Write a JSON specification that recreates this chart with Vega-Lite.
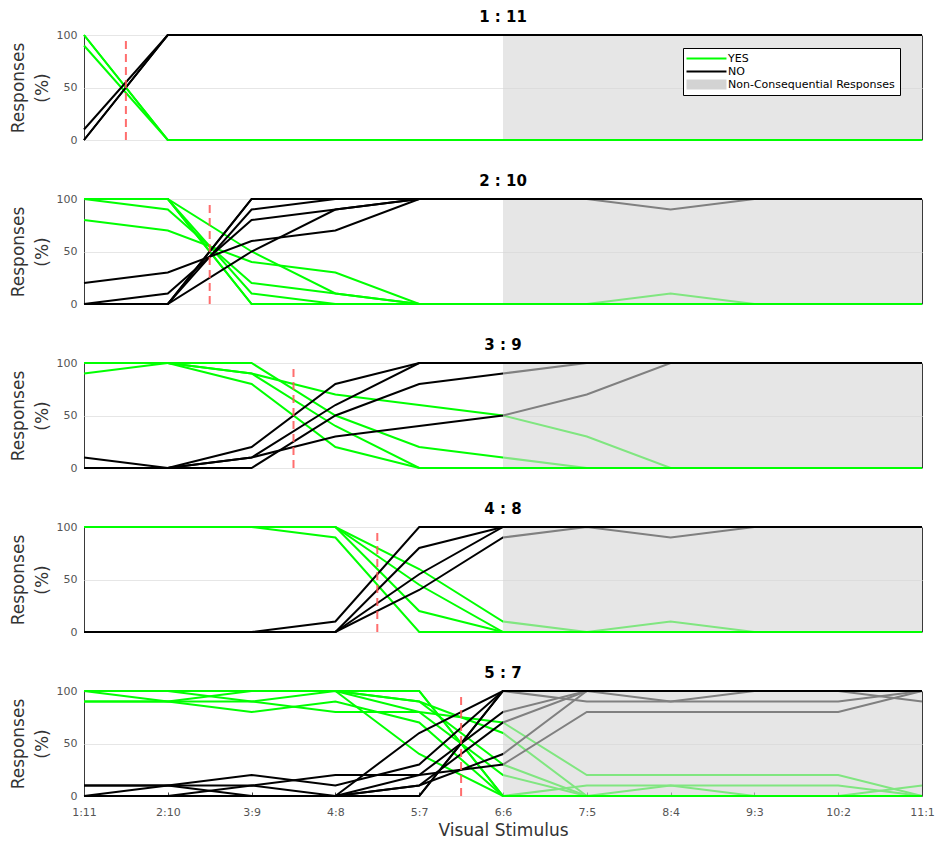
{
"$schema": "https://vega.github.io/schema/vega-lite/v6.json",
"background": "white",
"padding": {"left": 8, "top": 9, "right": 10, "bottom": 2},
"spacing": 27,
"datasets": {
"lines": [
{"p":1,"s":1,"x":1,"YES":100,"NO":0},{"p":1,"s":1,"x":2,"YES":0,"NO":100},{"p":1,"s":1,"x":3,"YES":0,"NO":100},{"p":1,"s":1,"x":4,"YES":0,"NO":100},{"p":1,"s":1,"x":5,"YES":0,"NO":100},{"p":1,"s":1,"x":6,"YES":0,"NO":100},{"p":1,"s":1,"x":7,"YES":0,"NO":100},{"p":1,"s":1,"x":8,"YES":0,"NO":100},{"p":1,"s":1,"x":9,"YES":0,"NO":100},{"p":1,"s":1,"x":10,"YES":0,"NO":100},{"p":1,"s":1,"x":11,"YES":0,"NO":100},
{"p":1,"s":2,"x":1,"YES":90,"NO":10},{"p":1,"s":2,"x":2,"YES":0,"NO":100},{"p":1,"s":2,"x":3,"YES":0,"NO":100},{"p":1,"s":2,"x":4,"YES":0,"NO":100},{"p":1,"s":2,"x":5,"YES":0,"NO":100},{"p":1,"s":2,"x":6,"YES":0,"NO":100},{"p":1,"s":2,"x":7,"YES":0,"NO":100},{"p":1,"s":2,"x":8,"YES":0,"NO":100},{"p":1,"s":2,"x":9,"YES":0,"NO":100},{"p":1,"s":2,"x":10,"YES":0,"NO":100},{"p":1,"s":2,"x":11,"YES":0,"NO":100},
{"p":1,"s":3,"x":1,"YES":100,"NO":0},{"p":1,"s":3,"x":2,"YES":0,"NO":100},{"p":1,"s":3,"x":3,"YES":0,"NO":100},{"p":1,"s":3,"x":4,"YES":0,"NO":100},{"p":1,"s":3,"x":5,"YES":0,"NO":100},{"p":1,"s":3,"x":6,"YES":0,"NO":100},{"p":1,"s":3,"x":7,"YES":0,"NO":100},{"p":1,"s":3,"x":8,"YES":0,"NO":100},{"p":1,"s":3,"x":9,"YES":0,"NO":100},{"p":1,"s":3,"x":10,"YES":0,"NO":100},{"p":1,"s":3,"x":11,"YES":0,"NO":100},

{"p":2,"s":1,"x":1,"YES":100,"NO":0},{"p":2,"s":1,"x":2,"YES":100,"NO":0},{"p":2,"s":1,"x":3,"YES":0,"NO":100},{"p":2,"s":1,"x":4,"YES":0,"NO":100},{"p":2,"s":1,"x":5,"YES":0,"NO":100},{"p":2,"s":1,"x":6,"YES":0,"NO":100},{"p":2,"s":1,"x":7,"YES":0,"NO":100},{"p":2,"s":1,"x":8,"YES":10,"NO":90},{"p":2,"s":1,"x":9,"YES":0,"NO":100},{"p":2,"s":1,"x":10,"YES":0,"NO":100},{"p":2,"s":1,"x":11,"YES":0,"NO":100},
{"p":2,"s":2,"x":1,"YES":100,"NO":0},{"p":2,"s":2,"x":2,"YES":100,"NO":0},{"p":2,"s":2,"x":3,"YES":10,"NO":90},{"p":2,"s":2,"x":4,"YES":0,"NO":100},{"p":2,"s":2,"x":5,"YES":0,"NO":100},{"p":2,"s":2,"x":6,"YES":0,"NO":100},{"p":2,"s":2,"x":7,"YES":0,"NO":100},{"p":2,"s":2,"x":8,"YES":0,"NO":100},{"p":2,"s":2,"x":9,"YES":0,"NO":100},{"p":2,"s":2,"x":10,"YES":0,"NO":100},{"p":2,"s":2,"x":11,"YES":0,"NO":100},
{"p":2,"s":3,"x":1,"YES":100,"NO":0},{"p":2,"s":3,"x":2,"YES":90,"NO":10},{"p":2,"s":3,"x":3,"YES":20,"NO":80},{"p":2,"s":3,"x":4,"YES":10,"NO":90},{"p":2,"s":3,"x":5,"YES":0,"NO":100},{"p":2,"s":3,"x":6,"YES":0,"NO":100},{"p":2,"s":3,"x":7,"YES":0,"NO":100},{"p":2,"s":3,"x":8,"YES":0,"NO":100},{"p":2,"s":3,"x":9,"YES":0,"NO":100},{"p":2,"s":3,"x":10,"YES":0,"NO":100},{"p":2,"s":3,"x":11,"YES":0,"NO":100},
{"p":2,"s":4,"x":1,"YES":100,"NO":0},{"p":2,"s":4,"x":2,"YES":100,"NO":0},{"p":2,"s":4,"x":3,"YES":50,"NO":50},{"p":2,"s":4,"x":4,"YES":10,"NO":90},{"p":2,"s":4,"x":5,"YES":0,"NO":100},{"p":2,"s":4,"x":6,"YES":0,"NO":100},{"p":2,"s":4,"x":7,"YES":0,"NO":100},{"p":2,"s":4,"x":8,"YES":0,"NO":100},{"p":2,"s":4,"x":9,"YES":0,"NO":100},{"p":2,"s":4,"x":10,"YES":0,"NO":100},{"p":2,"s":4,"x":11,"YES":0,"NO":100},
{"p":2,"s":5,"x":1,"YES":80,"NO":20},{"p":2,"s":5,"x":2,"YES":70,"NO":30},{"p":2,"s":5,"x":3,"YES":40,"NO":60},{"p":2,"s":5,"x":4,"YES":30,"NO":70},{"p":2,"s":5,"x":5,"YES":0,"NO":100},{"p":2,"s":5,"x":6,"YES":0,"NO":100},{"p":2,"s":5,"x":7,"YES":0,"NO":100},{"p":2,"s":5,"x":8,"YES":0,"NO":100},{"p":2,"s":5,"x":9,"YES":0,"NO":100},{"p":2,"s":5,"x":10,"YES":0,"NO":100},{"p":2,"s":5,"x":11,"YES":0,"NO":100},
{"p":2,"s":6,"x":1,"YES":100,"NO":0},{"p":2,"s":6,"x":2,"YES":100,"NO":0},{"p":2,"s":6,"x":3,"YES":0,"NO":100},{"p":2,"s":6,"x":4,"YES":0,"NO":100},{"p":2,"s":6,"x":5,"YES":0,"NO":100},{"p":2,"s":6,"x":6,"YES":0,"NO":100},{"p":2,"s":6,"x":7,"YES":0,"NO":100},{"p":2,"s":6,"x":8,"YES":0,"NO":100},{"p":2,"s":6,"x":9,"YES":0,"NO":100},{"p":2,"s":6,"x":10,"YES":0,"NO":100},{"p":2,"s":6,"x":11,"YES":0,"NO":100},

{"p":3,"s":1,"x":1,"YES":100,"NO":0},{"p":3,"s":1,"x":2,"YES":100,"NO":0},{"p":3,"s":1,"x":3,"YES":80,"NO":20},{"p":3,"s":1,"x":4,"YES":20,"NO":80},{"p":3,"s":1,"x":5,"YES":0,"NO":100},{"p":3,"s":1,"x":6,"YES":0,"NO":100},{"p":3,"s":1,"x":7,"YES":0,"NO":100},{"p":3,"s":1,"x":8,"YES":0,"NO":100},{"p":3,"s":1,"x":9,"YES":0,"NO":100},{"p":3,"s":1,"x":10,"YES":0,"NO":100},{"p":3,"s":1,"x":11,"YES":0,"NO":100},
{"p":3,"s":2,"x":1,"YES":100,"NO":0},{"p":3,"s":2,"x":2,"YES":100,"NO":0},{"p":3,"s":2,"x":3,"YES":90,"NO":10},{"p":3,"s":2,"x":4,"YES":40,"NO":60},{"p":3,"s":2,"x":5,"YES":0,"NO":100},{"p":3,"s":2,"x":6,"YES":0,"NO":100},{"p":3,"s":2,"x":7,"YES":0,"NO":100},{"p":3,"s":2,"x":8,"YES":0,"NO":100},{"p":3,"s":2,"x":9,"YES":0,"NO":100},{"p":3,"s":2,"x":10,"YES":0,"NO":100},{"p":3,"s":2,"x":11,"YES":0,"NO":100},
{"p":3,"s":3,"x":1,"YES":90,"NO":10},{"p":3,"s":3,"x":2,"YES":100,"NO":0},{"p":3,"s":3,"x":3,"YES":100,"NO":0},{"p":3,"s":3,"x":4,"YES":50,"NO":50},{"p":3,"s":3,"x":5,"YES":20,"NO":80},{"p":3,"s":3,"x":6,"YES":10,"NO":90},{"p":3,"s":3,"x":7,"YES":0,"NO":100},{"p":3,"s":3,"x":8,"YES":0,"NO":100},{"p":3,"s":3,"x":9,"YES":0,"NO":100},{"p":3,"s":3,"x":10,"YES":0,"NO":100},{"p":3,"s":3,"x":11,"YES":0,"NO":100},
{"p":3,"s":4,"x":1,"YES":100,"NO":0},{"p":3,"s":4,"x":2,"YES":100,"NO":0},{"p":3,"s":4,"x":3,"YES":90,"NO":10},{"p":3,"s":4,"x":4,"YES":70,"NO":30},{"p":3,"s":4,"x":5,"YES":60,"NO":40},{"p":3,"s":4,"x":6,"YES":50,"NO":50},{"p":3,"s":4,"x":7,"YES":30,"NO":70},{"p":3,"s":4,"x":8,"YES":0,"NO":100},{"p":3,"s":4,"x":9,"YES":0,"NO":100},{"p":3,"s":4,"x":10,"YES":0,"NO":100},{"p":3,"s":4,"x":11,"YES":0,"NO":100},

{"p":4,"s":1,"x":1,"YES":100,"NO":0},{"p":4,"s":1,"x":2,"YES":100,"NO":0},{"p":4,"s":1,"x":3,"YES":100,"NO":0},{"p":4,"s":1,"x":4,"YES":90,"NO":10},{"p":4,"s":1,"x":5,"YES":0,"NO":100},{"p":4,"s":1,"x":6,"YES":0,"NO":100},{"p":4,"s":1,"x":7,"YES":0,"NO":100},{"p":4,"s":1,"x":8,"YES":0,"NO":100},{"p":4,"s":1,"x":9,"YES":0,"NO":100},{"p":4,"s":1,"x":10,"YES":0,"NO":100},{"p":4,"s":1,"x":11,"YES":0,"NO":100},
{"p":4,"s":2,"x":1,"YES":100,"NO":0},{"p":4,"s":2,"x":2,"YES":100,"NO":0},{"p":4,"s":2,"x":3,"YES":100,"NO":0},{"p":4,"s":2,"x":4,"YES":100,"NO":0},{"p":4,"s":2,"x":5,"YES":20,"NO":80},{"p":4,"s":2,"x":6,"YES":0,"NO":100},{"p":4,"s":2,"x":7,"YES":0,"NO":100},{"p":4,"s":2,"x":8,"YES":0,"NO":100},{"p":4,"s":2,"x":9,"YES":0,"NO":100},{"p":4,"s":2,"x":10,"YES":0,"NO":100},{"p":4,"s":2,"x":11,"YES":0,"NO":100},
{"p":4,"s":3,"x":1,"YES":100,"NO":0},{"p":4,"s":3,"x":2,"YES":100,"NO":0},{"p":4,"s":3,"x":3,"YES":100,"NO":0},{"p":4,"s":3,"x":4,"YES":100,"NO":0},{"p":4,"s":3,"x":5,"YES":45,"NO":55},{"p":4,"s":3,"x":6,"YES":0,"NO":100},{"p":4,"s":3,"x":7,"YES":0,"NO":100},{"p":4,"s":3,"x":8,"YES":0,"NO":100},{"p":4,"s":3,"x":9,"YES":0,"NO":100},{"p":4,"s":3,"x":10,"YES":0,"NO":100},{"p":4,"s":3,"x":11,"YES":0,"NO":100},
{"p":4,"s":4,"x":1,"YES":100,"NO":0},{"p":4,"s":4,"x":2,"YES":100,"NO":0},{"p":4,"s":4,"x":3,"YES":100,"NO":0},{"p":4,"s":4,"x":4,"YES":100,"NO":0},{"p":4,"s":4,"x":5,"YES":60,"NO":40},{"p":4,"s":4,"x":6,"YES":10,"NO":90},{"p":4,"s":4,"x":7,"YES":0,"NO":100},{"p":4,"s":4,"x":8,"YES":10,"NO":90},{"p":4,"s":4,"x":9,"YES":0,"NO":100},{"p":4,"s":4,"x":10,"YES":0,"NO":100},{"p":4,"s":4,"x":11,"YES":0,"NO":100},

{"p":5,"s":1,"x":1,"YES":100,"NO":0},{"p":5,"s":1,"x":2,"YES":100,"NO":0},{"p":5,"s":1,"x":3,"YES":100,"NO":0},{"p":5,"s":1,"x":4,"YES":100,"NO":0},{"p":5,"s":1,"x":5,"YES":100,"NO":0},{"p":5,"s":1,"x":6,"YES":0,"NO":100},{"p":5,"s":1,"x":7,"YES":0,"NO":100},{"p":5,"s":1,"x":8,"YES":0,"NO":100},{"p":5,"s":1,"x":9,"YES":0,"NO":100},{"p":5,"s":1,"x":10,"YES":0,"NO":100},{"p":5,"s":1,"x":11,"YES":0,"NO":100},
{"p":5,"s":2,"x":1,"YES":90,"NO":10},{"p":5,"s":2,"x":2,"YES":90,"NO":10},{"p":5,"s":2,"x":3,"YES":80,"NO":20},{"p":5,"s":2,"x":4,"YES":90,"NO":10},{"p":5,"s":2,"x":5,"YES":70,"NO":30},{"p":5,"s":2,"x":6,"YES":0,"NO":100},{"p":5,"s":2,"x":7,"YES":0,"NO":100},{"p":5,"s":2,"x":8,"YES":0,"NO":100},{"p":5,"s":2,"x":9,"YES":0,"NO":100},{"p":5,"s":2,"x":10,"YES":0,"NO":100},{"p":5,"s":2,"x":11,"YES":0,"NO":100},
{"p":5,"s":3,"x":1,"YES":100,"NO":0},{"p":5,"s":3,"x":2,"YES":90,"NO":10},{"p":5,"s":3,"x":3,"YES":90,"NO":10},{"p":5,"s":3,"x":4,"YES":80,"NO":20},{"p":5,"s":3,"x":5,"YES":80,"NO":20},{"p":5,"s":3,"x":6,"YES":20,"NO":80},{"p":5,"s":3,"x":7,"YES":0,"NO":100},{"p":5,"s":3,"x":8,"YES":0,"NO":100},{"p":5,"s":3,"x":9,"YES":0,"NO":100},{"p":5,"s":3,"x":10,"YES":0,"NO":100},{"p":5,"s":3,"x":11,"YES":0,"NO":100},
{"p":5,"s":4,"x":1,"YES":90,"NO":10},{"p":5,"s":4,"x":2,"YES":90,"NO":10},{"p":5,"s":4,"x":3,"YES":100,"NO":0},{"p":5,"s":4,"x":4,"YES":100,"NO":0},{"p":5,"s":4,"x":5,"YES":90,"NO":10},{"p":5,"s":4,"x":6,"YES":30,"NO":70},{"p":5,"s":4,"x":7,"YES":0,"NO":100},{"p":5,"s":4,"x":8,"YES":0,"NO":100},{"p":5,"s":4,"x":9,"YES":0,"NO":100},{"p":5,"s":4,"x":10,"YES":0,"NO":100},{"p":5,"s":4,"x":11,"YES":0,"NO":100},
{"p":5,"s":5,"x":1,"YES":100,"NO":0},{"p":5,"s":5,"x":2,"YES":100,"NO":0},{"p":5,"s":5,"x":3,"YES":90,"NO":10},{"p":5,"s":5,"x":4,"YES":100,"NO":0},{"p":5,"s":5,"x":5,"YES":40,"NO":60},{"p":5,"s":5,"x":6,"YES":0,"NO":100},{"p":5,"s":5,"x":7,"YES":10,"NO":90},{"p":5,"s":5,"x":8,"YES":10,"NO":90},{"p":5,"s":5,"x":9,"YES":10,"NO":90},{"p":5,"s":5,"x":10,"YES":10,"NO":90},{"p":5,"s":5,"x":11,"YES":0,"NO":100},
{"p":5,"s":6,"x":1,"YES":100,"NO":0},{"p":5,"s":6,"x":2,"YES":100,"NO":0},{"p":5,"s":6,"x":3,"YES":100,"NO":0},{"p":5,"s":6,"x":4,"YES":100,"NO":0},{"p":5,"s":6,"x":5,"YES":100,"NO":0},{"p":5,"s":6,"x":6,"YES":0,"NO":100},{"p":5,"s":6,"x":7,"YES":0,"NO":100},{"p":5,"s":6,"x":8,"YES":10,"NO":90},{"p":5,"s":6,"x":9,"YES":0,"NO":100},{"p":5,"s":6,"x":10,"YES":0,"NO":100},{"p":5,"s":6,"x":11,"YES":10,"NO":90},
{"p":5,"s":7,"x":1,"YES":100,"NO":0},{"p":5,"s":7,"x":2,"YES":100,"NO":0},{"p":5,"s":7,"x":3,"YES":100,"NO":0},{"p":5,"s":7,"x":4,"YES":100,"NO":0},{"p":5,"s":7,"x":5,"YES":90,"NO":10},{"p":5,"s":7,"x":6,"YES":60,"NO":40},{"p":5,"s":7,"x":7,"YES":0,"NO":100},{"p":5,"s":7,"x":8,"YES":0,"NO":100},{"p":5,"s":7,"x":9,"YES":0,"NO":100},{"p":5,"s":7,"x":10,"YES":0,"NO":100},{"p":5,"s":7,"x":11,"YES":0,"NO":100},
{"p":5,"s":8,"x":1,"YES":100,"NO":0},{"p":5,"s":8,"x":2,"YES":100,"NO":0},{"p":5,"s":8,"x":3,"YES":100,"NO":0},{"p":5,"s":8,"x":4,"YES":100,"NO":0},{"p":5,"s":8,"x":5,"YES":80,"NO":20},{"p":5,"s":8,"x":6,"YES":70,"NO":30},{"p":5,"s":8,"x":7,"YES":20,"NO":80},{"p":5,"s":8,"x":8,"YES":20,"NO":80},{"p":5,"s":8,"x":9,"YES":20,"NO":80},{"p":5,"s":8,"x":10,"YES":20,"NO":80},{"p":5,"s":8,"x":11,"YES":0,"NO":100}
],
"thr": [{"p":1,"x":1.5},{"p":2,"x":2.5},{"p":3,"x":3.5},{"p":4,"x":4.5},{"p":5,"x":5.5}],
"shade": [{"x":6,"x2":11}]
},
"vconcat": [
{
"width": 838, "height": 105, "title": "1 : 11",
"encoding": {"x": {"field": "x", "type": "quantitative", "scale": {"domain": [1, 11], "nice": false, "zero": false}, "axis": null}},
"layer": [
{"data": {"name": "lines"}, "transform": [{"filter": "datum.p == 1"}, {"fold": ["YES", "NO"], "as": ["r", "v"]}, {"filter": "datum.r == 'YES'"}],
 "mark": {"type": "line", "strokeWidth": 2},
 "encoding": {
  "y": {"field": "v", "type": "quantitative", "scale": {"domain": [0, 100]}, "axis": {"values": [0, 50, 100], "title": ["Responses", "(%)"]}},
  "stroke": {"field": "r", "type": "nominal", "scale": {"domain": ["YES", "NO", "Non-Consequential Responses"], "range": ["#00ff00", "#000000", "#d3d3d3"]},
   "legend": {"orient": "none", "legendX": 599, "legendY": 13, "title": null, "symbolType": "stroke", "symbolSize": 196, "symbolStrokeWidth": 2, "labelFontSize": 11, "labelLimit": 400, "labelColor": "#000", "padding": 5, "rowPadding": 1, "strokeColor": "#000", "fillColor": "#fff", "labelOffset": 29,
    "encode": {"symbols": {"update": {
      "shape": {"signal": "datum.value == 'Non-Consequential Responses' ? 'M-1,-0.72H4.71V0.72H-1Z' : 'M-1,0H4.71'"},
      "fill": {"signal": "datum.value == 'Non-Consequential Responses' ? '#d3d3d3' : 'transparent'"},
      "strokeWidth": {"signal": "datum.value == 'Non-Consequential Responses' ? 0 : 2"}}}}}},
  "detail": {"field": "s"}
 }},
{"data": {"name": "lines"}, "transform": [{"filter": "datum.p == 1"}, {"fold": ["YES", "NO"], "as": ["r", "v"]}, {"filter": "datum.r == 'NO'"}],
 "mark": {"type": "line", "strokeWidth": 2},
 "encoding": {
  "y": {"field": "v", "type": "quantitative", "scale": {"domain": [0, 100]}},
  "stroke": {"field": "r", "type": "nominal"},
  "detail": {"field": "s"}
 }},
{"data": {"name": "shade"}, "mark": {"type": "rect", "fill": "#d5d5d5", "opacity": 0.6},
 "encoding": {"x": {"field": "x", "type": "quantitative"}, "x2": {"field": "x2"}, "y": {"datum": 1, "type": "quantitative"}, "y2": {"datum": 99}}},
{"data": {"name": "thr"}, "transform": [{"filter": "datum.p == 1"}], "mark": {"type": "rule", "stroke": "#ff5555", "strokeWidth": 2, "strokeDash": [8, 5], "opacity": 0.85},
 "encoding": {"x": {"field": "x", "type": "quantitative"}, "y": {"datum": 0, "type": "quantitative"}, "y2": {"datum": 95}}}
]
},
{
"width": 838, "height": 105, "title": "2 : 10",
"encoding": {"x": {"field": "x", "type": "quantitative", "scale": {"domain": [1, 11], "nice": false, "zero": false}, "axis": null}},
"layer": [
{"data": {"name": "lines"}, "transform": [{"filter": "datum.p == 2"}, {"fold": ["YES", "NO"], "as": ["r", "v"]}, {"filter": "datum.r == 'YES'"}],
 "mark": {"type": "line", "strokeWidth": 2},
 "encoding": {
  "y": {"field": "v", "type": "quantitative", "scale": {"domain": [0, 100]}, "axis": {"values": [0, 50, 100], "title": ["Responses", "(%)"]}},
  "stroke": {"field": "r", "type": "nominal", "scale": {"domain": ["YES", "NO", "Non-Consequential Responses"], "range": ["#00ff00", "#000000", "#d3d3d3"]}, "legend": null},
  "detail": {"field": "s"}
 }},
{"data": {"name": "lines"}, "transform": [{"filter": "datum.p == 2"}, {"fold": ["YES", "NO"], "as": ["r", "v"]}, {"filter": "datum.r == 'NO'"}],
 "mark": {"type": "line", "strokeWidth": 2},
 "encoding": {
  "y": {"field": "v", "type": "quantitative", "scale": {"domain": [0, 100]}},
  "stroke": {"field": "r", "type": "nominal", "legend": null},
  "detail": {"field": "s"}
 }},
{"data": {"name": "shade"}, "mark": {"type": "rect", "fill": "#d5d5d5", "opacity": 0.6},
 "encoding": {"x": {"field": "x", "type": "quantitative"}, "x2": {"field": "x2"}, "y": {"datum": 1, "type": "quantitative"}, "y2": {"datum": 99}}},
{"data": {"name": "thr"}, "transform": [{"filter": "datum.p == 2"}], "mark": {"type": "rule", "stroke": "#ff5555", "strokeWidth": 2, "strokeDash": [8, 5], "opacity": 0.85},
 "encoding": {"x": {"field": "x", "type": "quantitative"}, "y": {"datum": 0, "type": "quantitative"}, "y2": {"datum": 95}}}
]
},
{
"width": 838, "height": 105, "title": "3 : 9",
"encoding": {"x": {"field": "x", "type": "quantitative", "scale": {"domain": [1, 11], "nice": false, "zero": false}, "axis": null}},
"layer": [
{"data": {"name": "lines"}, "transform": [{"filter": "datum.p == 3"}, {"fold": ["YES", "NO"], "as": ["r", "v"]}, {"filter": "datum.r == 'YES'"}],
 "mark": {"type": "line", "strokeWidth": 2},
 "encoding": {
  "y": {"field": "v", "type": "quantitative", "scale": {"domain": [0, 100]}, "axis": {"values": [0, 50, 100], "title": ["Responses", "(%)"]}},
  "stroke": {"field": "r", "type": "nominal", "scale": {"domain": ["YES", "NO", "Non-Consequential Responses"], "range": ["#00ff00", "#000000", "#d3d3d3"]}, "legend": null},
  "detail": {"field": "s"}
 }},
{"data": {"name": "lines"}, "transform": [{"filter": "datum.p == 3"}, {"fold": ["YES", "NO"], "as": ["r", "v"]}, {"filter": "datum.r == 'NO'"}],
 "mark": {"type": "line", "strokeWidth": 2},
 "encoding": {
  "y": {"field": "v", "type": "quantitative", "scale": {"domain": [0, 100]}},
  "stroke": {"field": "r", "type": "nominal", "legend": null},
  "detail": {"field": "s"}
 }},
{"data": {"name": "shade"}, "mark": {"type": "rect", "fill": "#d5d5d5", "opacity": 0.6},
 "encoding": {"x": {"field": "x", "type": "quantitative"}, "x2": {"field": "x2"}, "y": {"datum": 1, "type": "quantitative"}, "y2": {"datum": 99}}},
{"data": {"name": "thr"}, "transform": [{"filter": "datum.p == 3"}], "mark": {"type": "rule", "stroke": "#ff5555", "strokeWidth": 2, "strokeDash": [8, 5], "opacity": 0.85},
 "encoding": {"x": {"field": "x", "type": "quantitative"}, "y": {"datum": 0, "type": "quantitative"}, "y2": {"datum": 95}}}
]
},
{
"width": 838, "height": 105, "title": "4 : 8",
"encoding": {"x": {"field": "x", "type": "quantitative", "scale": {"domain": [1, 11], "nice": false, "zero": false}, "axis": null}},
"layer": [
{"data": {"name": "lines"}, "transform": [{"filter": "datum.p == 4"}, {"fold": ["YES", "NO"], "as": ["r", "v"]}, {"filter": "datum.r == 'YES'"}],
 "mark": {"type": "line", "strokeWidth": 2},
 "encoding": {
  "y": {"field": "v", "type": "quantitative", "scale": {"domain": [0, 100]}, "axis": {"values": [0, 50, 100], "title": ["Responses", "(%)"]}},
  "stroke": {"field": "r", "type": "nominal", "scale": {"domain": ["YES", "NO", "Non-Consequential Responses"], "range": ["#00ff00", "#000000", "#d3d3d3"]}, "legend": null},
  "detail": {"field": "s"}
 }},
{"data": {"name": "lines"}, "transform": [{"filter": "datum.p == 4"}, {"fold": ["YES", "NO"], "as": ["r", "v"]}, {"filter": "datum.r == 'NO'"}],
 "mark": {"type": "line", "strokeWidth": 2},
 "encoding": {
  "y": {"field": "v", "type": "quantitative", "scale": {"domain": [0, 100]}},
  "stroke": {"field": "r", "type": "nominal", "legend": null},
  "detail": {"field": "s"}
 }},
{"data": {"name": "shade"}, "mark": {"type": "rect", "fill": "#d5d5d5", "opacity": 0.6},
 "encoding": {"x": {"field": "x", "type": "quantitative"}, "x2": {"field": "x2"}, "y": {"datum": 1, "type": "quantitative"}, "y2": {"datum": 99}}},
{"data": {"name": "thr"}, "transform": [{"filter": "datum.p == 4"}], "mark": {"type": "rule", "stroke": "#ff5555", "strokeWidth": 2, "strokeDash": [8, 5], "opacity": 0.85},
 "encoding": {"x": {"field": "x", "type": "quantitative"}, "y": {"datum": 0, "type": "quantitative"}, "y2": {"datum": 95}}}
]
},
{
"width": 838, "height": 105, "title": "5 : 7",
"encoding": {"x": {"field": "x", "type": "quantitative", "scale": {"domain": [1, 11], "nice": false, "zero": false},
  "axis": {"values": [1,2,3,4,5,6,7,8,9,10,11], "labelExpr": "['1:11','2:10','3:9','4:8','5:7','6:6','7:5','8:4','9:3','10:2','11:1'][datum.value - 1]", "title": "Visual Stimulus", "grid": false, "domain": false, "ticks": true, "tickSize": -4, "tickColor": "#444", "labelPadding": 14, "labelFontSize": 11, "labelColor": "#555", "titleFontSize": 17, "titleFontWeight": "normal", "titleColor": "#333", "titlePadding": 5, "labelFlush": false}}},
"layer": [
{"data": {"name": "lines"}, "transform": [{"filter": "datum.p == 5"}, {"fold": ["YES", "NO"], "as": ["r", "v"]}, {"filter": "datum.r == 'YES'"}],
 "mark": {"type": "line", "strokeWidth": 2},
 "encoding": {
  "y": {"field": "v", "type": "quantitative", "scale": {"domain": [0, 100]}, "axis": {"values": [0, 50, 100], "title": ["Responses", "(%)"]}},
  "stroke": {"field": "r", "type": "nominal", "scale": {"domain": ["YES", "NO", "Non-Consequential Responses"], "range": ["#00ff00", "#000000", "#d3d3d3"]}, "legend": null},
  "detail": {"field": "s"}
 }},
{"data": {"name": "lines"}, "transform": [{"filter": "datum.p == 5"}, {"fold": ["YES", "NO"], "as": ["r", "v"]}, {"filter": "datum.r == 'NO'"}],
 "mark": {"type": "line", "strokeWidth": 2},
 "encoding": {
  "y": {"field": "v", "type": "quantitative", "scale": {"domain": [0, 100]}},
  "stroke": {"field": "r", "type": "nominal", "legend": null},
  "detail": {"field": "s"}
 }},
{"data": {"name": "shade"}, "mark": {"type": "rect", "fill": "#d5d5d5", "opacity": 0.6},
 "encoding": {"x": {"field": "x", "type": "quantitative"}, "x2": {"field": "x2"}, "y": {"datum": 1, "type": "quantitative"}, "y2": {"datum": 99}}},
{"data": {"name": "thr"}, "transform": [{"filter": "datum.p == 5"}], "mark": {"type": "rule", "stroke": "#ff5555", "strokeWidth": 2, "strokeDash": [8, 5], "opacity": 0.85},
 "encoding": {"x": {"field": "x", "type": "quantitative"}, "y": {"datum": 0, "type": "quantitative"}, "y2": {"datum": 95}}}
]
}
],
"config": {
 "font": "DejaVu Sans",
 "view": {"stroke": "#3a3a3a", "strokeWidth": 1},
 "title": {"fontSize": 15, "fontWeight": "bold", "color": "#000", "offset": 4, "anchor": "middle"},
 "axisY": {"grid": true, "gridColor": "#e6e6e6", "domain": false, "ticks": false, "labelPadding": 7, "labelFontSize": 11, "labelColor": "#555", "titleFontSize": 17, "titleFontWeight": "normal", "titleColor": "#333", "titlePadding": 5, "titleLineHeight": 24}
}
}
